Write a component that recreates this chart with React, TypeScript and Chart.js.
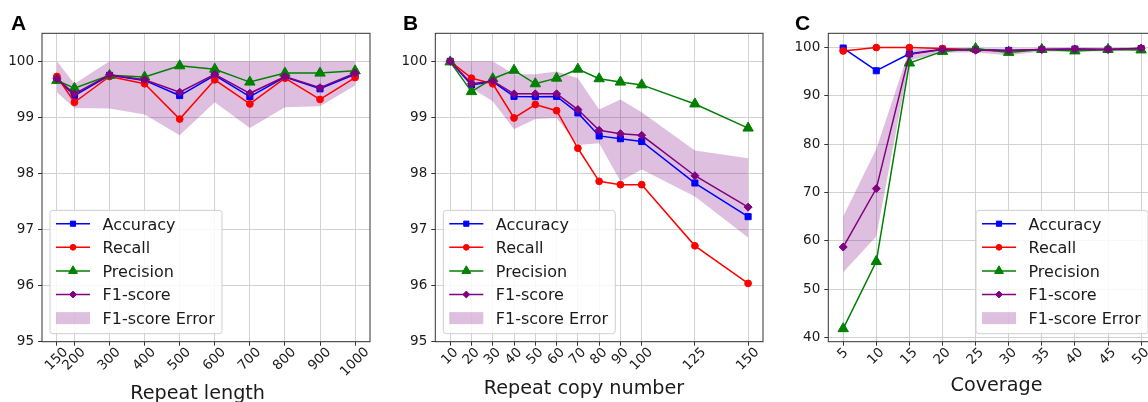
import React, { useEffect, useRef } from "react";
import { Chart, registerables } from "chart.js";
Chart.register(...registerables);

// ---------- Data ----------
// Panel A: Repeat length
const lengthX = [150, 200, 300, 400, 500, 600, 700, 800, 900, 1000];
const lengthAccuracy = [99.69, 99.39, 99.75, 99.66, 99.39, 99.75, 99.37, 99.72, 99.51, 99.77];
const lengthRecall = [99.73, 99.27, 99.73, 99.6, 98.97, 99.67, 99.24, 99.7, 99.32, 99.71];
const lengthPrecision = [99.66, 99.52, 99.75, 99.72, 99.92, 99.86, 99.63, 99.79, 99.79, 99.83];
const lengthF1 = [99.69, 99.42, 99.76, 99.67, 99.45, 99.77, 99.43, 99.73, 99.53, 99.79];
const lengthF1Upper = [100, 99.6, 100, 100, 100, 100, 100, 100, 100, 100];
const lengthF1Lower = [99.45, 99.17, 99.16, 99.05, 98.68, 99.27, 98.81, 99.18, 99.2, 99.57];

// Panel B: Repeat copy number
const copyX = [10, 20, 30, 40, 50, 60, 70, 80, 90, 100, 125, 150];
const copyAccuracy = [100, 99.58, 99.64, 99.375, 99.37, 99.375, 99.08, 98.67, 98.62, 98.57, 97.83, 97.23];
const copyRecall = [100, 99.7, 99.6, 98.99, 99.23, 99.12, 98.45, 97.86, 97.8, 97.8, 96.71, 96.04];
const copyPrecision = [99.99, 99.46, 99.69, 99.84, 99.6, 99.7, 99.86, 99.69, 99.63, 99.58, 99.24, 98.81];
const copyF1 = [100, 99.6, 99.65, 99.42, 99.42, 99.42, 99.14, 98.77, 98.71, 98.68, 97.96, 97.4];
const copyF1Upper = [100, 100, 100, 99.77, 99.77, 99.82, 99.7, 99.14, 99.32, 99.09, 98.41, 98.27];
const copyF1Lower = [100, 99.52, 99.29, 98.79, 98.97, 98.99, 98.51, 98.54, 97.86, 98.07, 97.59, 96.86];

// Panel C: Coverage
const coverageX = [5, 10, 15, 20, 25, 30, 35, 40, 45, 50];
const coverageAccuracy = [99.9, 95.2, 98.7, 99.65, 99.6, 99.4, 99.6, 99.7, 99.6, 99.8];
const coverageRecall = [99.3, 100, 100, 99.8, 99.5, 99.3, 99.6, 99.6, 99.6, 99.8];
const coveragePrecision = [41.8, 55.7, 96.8, 99.2, 99.8, 99.0, 99.6, 99.3, 99.6, 99.5];
const coverageF1 = [58.7, 70.8, 98.6, 99.6, 99.45, 99.4, 99.6, 99.65, 99.6, 99.85];
const coverageF1Upper = [65.0, 79.0, 99.6, 99.9, 99.9, 99.8, 99.9, 99.95, 99.9, 100];
const coverageF1Lower = [53.5, 60.9, 97.3, 99.0, 99.0, 98.4, 99.2, 99.2, 99.2, 99.5];

const scoreTicks = [95, 96, 97, 98, 99, 100];
const coverageTicks = [40, 50, 60, 70, 80, 90, 100];

const seriesLabels = ["Accuracy", "Recall", "Precision", "F1-score"];
const errorLabel = "F1-score Error";

// ---------- Styles ----------
const FONT = "'DejaVu Sans', sans-serif";
const TEXT = "#1a1a1a";
const GRID = "#d2d2d2";
const SPINE = "#333333";
const BAND = "rgba(128,0,128,0.25)";
const TICK_FS = 13.5;
const LEGEND_FS = 16;
const TITLE_FS = 19.2;
const PLOT_TOP = 33.3;
const PLOT_BOTTOM = 341.7;
const H = 402;

const STYLES = [
  { color: "#0000ff", marker: "rect", r: 4.3 },
  { color: "#ff0000", marker: "circle", r: 3.4 },
  { color: "#008000", marker: "triangle", r: 6 },
  { color: "#800080", marker: "rectRot", r: 4 },
];

type Panel = {
  key: string;
  left: number;
  width: number;
  plotLeft: number;
  plotRight: number;
  x: number[];
  series: number[][];
  upper: number[];
  lower: number[];
  xMin: number;
  xMax: number;
  yMin: number;
  yMax: number;
  yTicks: number[];
  title: string;
  titleCenter: number;
  titleBaseline: number;
  legendSide: "left" | "right";
  letterX: number;
};

const panels: Panel[] = [
  {
    key: "A", left: 0, width: 380, plotLeft: 42, plotRight: 370,
    x: lengthX, series: [lengthAccuracy, lengthRecall, lengthPrecision, lengthF1],
    upper: lengthF1Upper, lower: lengthF1Lower,
    xMin: 107.5, xMax: 1042.5, yMin: 95, yMax: 100.5, yTicks: scoreTicks,
    title: "Repeat length", titleCenter: 197.6, titleBaseline: 398.5, legendSide: "left", letterX: 11,
  },
  {
    key: "B", left: 385, width: 385, plotLeft: 435.3, plotRight: 763,
    x: copyX, series: [copyAccuracy, copyRecall, copyPrecision, copyF1],
    upper: copyF1Upper, lower: copyF1Lower,
    xMin: 3, xMax: 157, yMin: 95, yMax: 100.5, yTicks: scoreTicks,
    title: "Repeat copy number", titleCenter: 584, titleBaseline: 393.8, legendSide: "left", letterX: 403,
  },
  {
    key: "C", left: 770, width: 400, plotLeft: 828.3, plotRight: 1156,
    x: coverageX, series: [coverageAccuracy, coverageRecall, coveragePrecision, coverageF1],
    upper: coverageF1Upper, lower: coverageF1Lower,
    xMin: 2.75, xMax: 52.25, yMin: 39.1, yMax: 102.95, yTicks: coverageTicks,
    title: "Coverage", titleCenter: 996.5, titleBaseline: 390.5, legendSide: "right", letterX: 795,
  },
];

function drawMarker(ctx: CanvasRenderingContext2D, style: string, x: number, y: number, r: number, color: string) {
  ctx.save();
  ctx.fillStyle = color;
  ctx.strokeStyle = color;
  ctx.lineWidth = 1;
  ctx.beginPath();
  if (style === "rect") {
    const s = r * Math.SQRT1_2;
    ctx.rect(x - s, y - s, 2 * s, 2 * s);
  } else if (style === "circle") {
    ctx.arc(x, y, r, 0, Math.PI * 2);
  } else if (style === "triangle") {
    let a = 0;
    ctx.moveTo(x + Math.sin(a) * r, y - Math.cos(a) * r);
    a += (2 * Math.PI) / 3;
    ctx.lineTo(x + Math.sin(a) * r, y - Math.cos(a) * r);
    a += (2 * Math.PI) / 3;
    ctx.lineTo(x + Math.sin(a) * r, y - Math.cos(a) * r);
    ctx.closePath();
  } else {
    ctx.moveTo(x, y - r);
    ctx.lineTo(x + r, y);
    ctx.lineTo(x, y + r);
    ctx.lineTo(x - r, y);
    ctx.closePath();
  }
  ctx.fill();
  ctx.stroke();
  ctx.restore();
}

function buildConfig(p: Panel): any {
  const datasets: any[] = p.series.map((vals, i) => ({
    label: seriesLabels[i],
    data: p.x.map((xv, j) => ({ x: xv, y: vals[j] })),
    borderColor: STYLES[i].color,
    backgroundColor: STYLES[i].color,
    pointBackgroundColor: STYLES[i].color,
    pointBorderColor: STYLES[i].color,
    pointStyle: STYLES[i].marker,
    pointRadius: STYLES[i].r,
    pointBorderWidth: 1,
    borderWidth: 1.5,
    tension: 0,
    fill: false,
    order: 4 - i,
  }));
  datasets.push({
    label: "F1 upper",
    data: p.x.map((xv, j) => ({ x: xv, y: p.upper[j] })),
    borderColor: "rgba(0,0,0,0)",
    borderWidth: 0,
    pointRadius: 0,
    fill: false,
    order: 10,
  });
  datasets.push({
    label: errorLabel,
    data: p.x.map((xv, j) => ({ x: xv, y: p.lower[j] })),
    borderColor: "rgba(0,0,0,0)",
    backgroundColor: BAND,
    borderWidth: 0,
    pointRadius: 0,
    fill: "-1",
    order: 11,
  });

  const panelPlugin = {
    id: "panelDecor" + p.key,
    afterDraw(chart: any) {
      const ctx: CanvasRenderingContext2D = chart.ctx;
      const area = chart.chartArea;
      // spines
      ctx.save();
      ctx.strokeStyle = SPINE;
      ctx.lineWidth = 1;
      ctx.strokeRect(area.left, area.top, area.right - area.left, area.bottom - area.top);
      ctx.restore();

      // rotated x tick labels (centered like matplotlib)
      const xs = chart.scales.x;
      ctx.save();
      ctx.fillStyle = TEXT;
      ctx.font = `${TICK_FS}px ${FONT}`;
      p.x.forEach((v) => {
        const label = String(v);
        const px = xs.getPixelForValue(v);
        const w = ctx.measureText(label).width;
        const cy = area.bottom + 4.7 + (w * 0.92 + 0.73 * TICK_FS) * 0.3536;
        const cx = px - 1.2;
        ctx.save();
        ctx.translate(cx, cy);
        ctx.rotate(-Math.PI / 4);
        ctx.textAlign = "center";
        ctx.textBaseline = "alphabetic";
        ctx.fillText(label, 0, 0.365 * TICK_FS);
        ctx.restore();
      });
      ctx.restore();

      // x axis title
      ctx.save();
      ctx.fillStyle = TEXT;
      ctx.font = `${TITLE_FS}px ${FONT}`;
      ctx.textAlign = "center";
      ctx.textBaseline = "alphabetic";
      ctx.fillText(p.title, p.titleCenter - p.left, p.titleBaseline);
      ctx.restore();

      // legend
      const boxW = 172;
      const boxH = 123.3;
      const x0 = p.legendSide === "left" ? area.left + 8 : area.right - 8 - boxW;
      const y0 = area.bottom - 8 - boxH;
      ctx.save();
      ctx.beginPath();
      (ctx as any).roundRect(x0, y0, boxW, boxH, 3);
      ctx.fillStyle = "rgba(255,255,255,0.85)";
      ctx.fill();
      ctx.strokeStyle = "#cfcfcf";
      ctx.lineWidth = 1;
      ctx.stroke();
      const rows = [...seriesLabels, errorLabel];
      rows.forEach((lab, i) => {
        const yc = y0 + 13.3 + i * 23.6;
        if (i < 4) {
          const st = STYLES[i];
          ctx.strokeStyle = st.color;
          ctx.lineWidth = 1.5;
          ctx.beginPath();
          ctx.moveTo(x0 + 6, yc);
          ctx.lineTo(x0 + 40, yc);
          ctx.stroke();
          drawMarker(ctx, st.marker, x0 + 23, yc, st.r * 0.85, st.color);
        } else {
          ctx.fillStyle = BAND;
          ctx.fillRect(x0 + 6, yc - 6, 34, 12);
        }
        ctx.fillStyle = TEXT;
        ctx.font = `${LEGEND_FS}px ${FONT}`;
        ctx.textAlign = "left";
        ctx.textBaseline = "alphabetic";
        ctx.fillText(lab, x0 + 52.5, yc + 0.365 * LEGEND_FS);
      });
      ctx.restore();

      // panel letter
      ctx.save();
      ctx.fillStyle = "#000";
      ctx.font = "bold 21px 'Liberation Sans', Arial, sans-serif";
      ctx.textAlign = "left";
      ctx.textBaseline = "alphabetic";
      ctx.fillText(p.key, p.letterX - p.left, 30);
      ctx.restore();
    },
  };

  return {
    type: "line",
    data: { datasets },
    plugins: [panelPlugin],
    options: {
      animation: false,
      responsive: false,
      maintainAspectRatio: false,
      events: [],
      layout: {
        padding: { top: PLOT_TOP, right: p.width - (p.plotRight - p.left), left: 0, bottom: 0 },
      },
      plugins: {
        legend: { display: false },
        tooltip: { enabled: false },
        title: { display: false },
      },
      scales: {
        x: {
          type: "linear",
          min: p.xMin,
          max: p.xMax,
          afterBuildTicks: (s: any) => {
            s.ticks = p.x.map((v) => ({ value: v }));
          },
          afterFit: (s: any) => {
            s.height = H - PLOT_BOTTOM;
          },
          ticks: { display: false, autoSkip: false },
          grid: { color: GRID, lineWidth: 1, drawTicks: true, tickLength: 4, tickColor: SPINE, tickWidth: 1 },
          border: { display: false },
          title: { display: false },
        },
        y: {
          type: "linear",
          min: p.yMin,
          max: p.yMax,
          afterBuildTicks: (s: any) => {
            s.ticks = p.yTicks.map((v) => ({ value: v }));
          },
          afterFit: (s: any) => {
            s.width = p.plotLeft - p.left;
          },
          ticks: { autoSkip: false, color: TEXT, font: { family: FONT, size: TICK_FS }, padding: 4 },
          grid: { color: GRID, lineWidth: 1, drawTicks: true, tickLength: 4, tickColor: SPINE, tickWidth: 1 },
          border: { display: false },
        },
      },
    },
  };
}

function PanelChart({ p }: { p: Panel }) {
  const ref = useRef<HTMLCanvasElement>(null);
  useEffect(() => {
    const chart = new Chart(ref.current as HTMLCanvasElement, buildConfig(p));
    return () => chart.destroy();
  }, [p]);
  return (
    <canvas
      ref={ref}
      width={p.width}
      height={H}
      style={{ position: "absolute", left: p.left, top: 0, width: p.width, height: H }}
    />
  );
}

export default function App() {
  return (
    <div
      style={{
        position: "absolute",
        left: 0,
        top: 0,
        width: 1148,
        height: H,
        overflow: "hidden",
        background: "#ffffff",
      }}
    >
      {panels.map((p) => (
        <PanelChart key={p.key} p={p} />
      ))}
    </div>
  );
}
